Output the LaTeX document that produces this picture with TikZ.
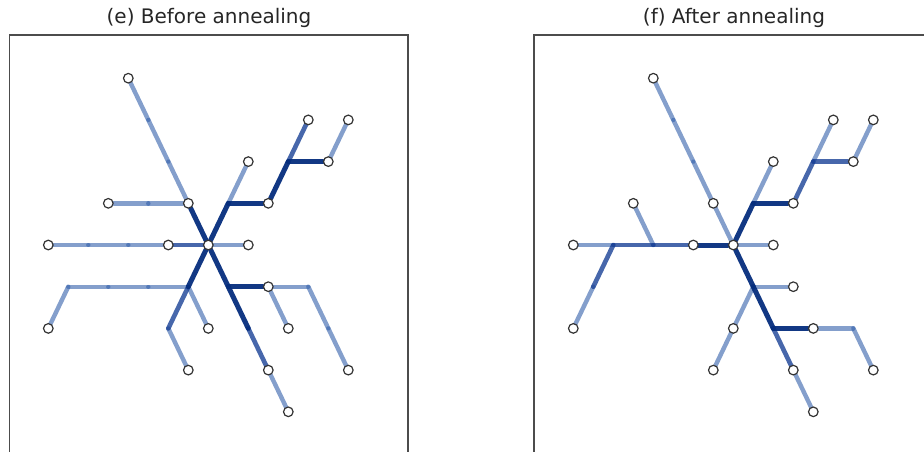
\documentclass[tikz,border=0pt]{standalone}
\usepackage{fontspec}
\setmainfont{DejaVu Sans}
\usetikzlibrary{backgrounds}
\definecolor{faintblue}{RGB}{50,95,170}
\definecolor{midblue}{RGB}{25,65,150}
\definecolor{heavyblue}{RGB}{5,45,125}

\begin{document}
\begin{tikzpicture}[x=0.5pt,y=-0.5pt,
  dot/.style={circle,draw=black!80,line width=0.6pt,fill=white,inner sep=0pt,minimum size=4.8pt},
  faint/.style={draw=faintblue,line width=2.2pt,opacity=.6,line cap=round},
  midw/.style={draw=midblue,line width=2.3pt,opacity=.8,line cap=round},
  heavy/.style={draw=heavyblue,line width=2.5pt,opacity=.95,line cap=round},
  frame/.style={draw=black!70,line width=0.6pt},
  title/.style={font=\fontsize{10}{12}\selectfont,text=black!85}]
\useasboundingbox (0,0) rectangle (924,451);
\clip (0,0) rectangle (924,451);
\draw[frame] (9.5,470) -- (9.5,35) -- (408,35) -- (408,470);
\draw[frame] (534,470) -- (534,35) -- (940,35);
\node[title] (etitle) at (209,18) {(e) Before annealing};
\node[title] (ftitle) at (734,18) {(f) After annealing};

% (e) before annealing
\begin{scope}[shift={(208.3,245)},x=10pt,y=20.85pt]
\node[dot] (ec) at (0,0) {};
\node[dot] (eu1) at (-1,1) {};
\coordinate (eu2) at (-2,2);
\coordinate (eu3) at (-3,3);
\node[dot] (eu4) at (-4,4) {};
\coordinate (eh1) at (-3,1);
\node[dot] (eh2) at (-5,1) {};
\node[dot] (ew1) at (-2,0) {};
\coordinate (ew2) at (-4,0);
\coordinate (ew3) at (-6,0);
\node[dot] (ew4) at (-8,0) {};
\node[dot] (er1) at (2,0) {};
\coordinate (ea1) at (1,1);
\node[dot] (ea2) at (2,2) {};
\node[dot] (ea3) at (3,1) {};
\coordinate (ea4) at (4,2);
\node[dot] (ea5) at (5,3) {};
\node[dot] (ea6) at (6,2) {};
\node[dot] (ea7) at (7,3) {};
\coordinate (eb1) at (-1,-1);
\coordinate (eb2) at (-3,-1);
\coordinate (eb3) at (-5,-1);
\coordinate (eb4) at (-7,-1);
\node[dot] (eb5) at (-8,-2) {};
\coordinate (eb6) at (-2,-2);
\node[dot] (eb7) at (-1,-3) {};
\node[dot] (eb8) at (0,-2) {};
\coordinate (ed1) at (1,-1);
\node[dot] (ed2) at (3,-1) {};
\coordinate (ed3) at (5,-1);
\coordinate (ed4) at (6,-2);
\node[dot] (ed5) at (7,-3) {};
\node[dot] (ed6) at (4,-2) {};
\coordinate (ed7) at (2,-2);
\node[dot] (ed8) at (3,-3) {};
\node[dot] (ed9) at (4,-4) {};
\begin{scope}[on background layer]
\foreach \a/\b in {eu4/eu3,eu3/eu2,eu2/eu1,eh2/eh1,eh1/eu1,ew4/ew3,ew3/ew2,ew2/ew1,ec/er1,
    ea1/ea2,ea6/ea7,eb1/eb2,eb2/eb3,eb3/eb4,eb4/eb5,eb6/eb7,eb1/eb8,ed2/ed3,ed3/ed4,ed4/ed5,
    ed2/ed6,ed8/ed9}
  \draw[faint] (\a) -- (\b);
\foreach \a/\b in {ew1/ec,ea4/ea5,eb1/eb6,ed7/ed8}
  \draw[midw] (\a) -- (\b);
\foreach \a/\b in {eu1/ec,ec/ea1,ea1/ea3,ea3/ea4,ea4/ea6,ec/eb1,ec/ed1,ed1/ed2,ed1/ed7}
  \draw[heavy] (\a) -- (\b);
\end{scope}
\end{scope}

% (f) after annealing
\begin{scope}[shift={(733.3,245)},x=10pt,y=20.85pt]
\node[dot] (fc) at (0,0) {};
\node[dot] (fu1) at (-1,1) {};
\coordinate (fu2) at (-2,2);
\coordinate (fu3) at (-3,3);
\node[dot] (fu4) at (-4,4) {};
\node[dot] (fw1) at (-2,0) {};
\coordinate (fw2) at (-4,0);
\coordinate (fw3) at (-6,0);
\node[dot] (fw4) at (-8,0) {};
\node[dot] (fh1) at (-5,1) {};
\coordinate (fb1) at (-7,-1);
\node[dot] (fb2) at (-8,-2) {};
\node[dot] (fr1) at (2,0) {};
\coordinate (fa1) at (1,1);
\node[dot] (fa2) at (2,2) {};
\node[dot] (fa3) at (3,1) {};
\coordinate (fa4) at (4,2);
\node[dot] (fa5) at (5,3) {};
\node[dot] (fa6) at (6,2) {};
\node[dot] (fa7) at (7,3) {};
\coordinate (fd1) at (1,-1);
\node[dot] (fe1) at (3,-1) {};
\node[dot] (fg1) at (0,-2) {};
\node[dot] (fg2) at (-1,-3) {};
\coordinate (fd7) at (2,-2);
\node[dot] (fd6) at (4,-2) {};
\coordinate (fd3) at (6,-2);
\node[dot] (fd5) at (7,-3) {};
\node[dot] (fd8) at (3,-3) {};
\node[dot] (fd9) at (4,-4) {};
\begin{scope}[on background layer]
\foreach \a/\b in {fu4/fu3,fu3/fu2,fu2/fu1,fu1/fc,fw4/fw3,fc/fr1,fh1/fw2,fb1/fb2,fa1/fa2,
    fa4/fa5,fa6/fa7,fd1/fe1,fd1/fg1,fg1/fg2,fd8/fd9,fd6/fd3,fd3/fd5}
  \draw[faint] (\a) -- (\b);
\foreach \a/\b in {fw3/fw2,fw2/fw1,fw3/fb1,fa3/fa4,fa4/fa6,fd7/fd8}
  \draw[midw] (\a) -- (\b);
\foreach \a/\b in {fw1/fc,fc/fa1,fa1/fa3,fc/fd1,fd1/fd7,fd7/fd6}
  \draw[heavy] (\a) -- (\b);
\end{scope}
\end{scope}
\end{tikzpicture}
\end{document}
